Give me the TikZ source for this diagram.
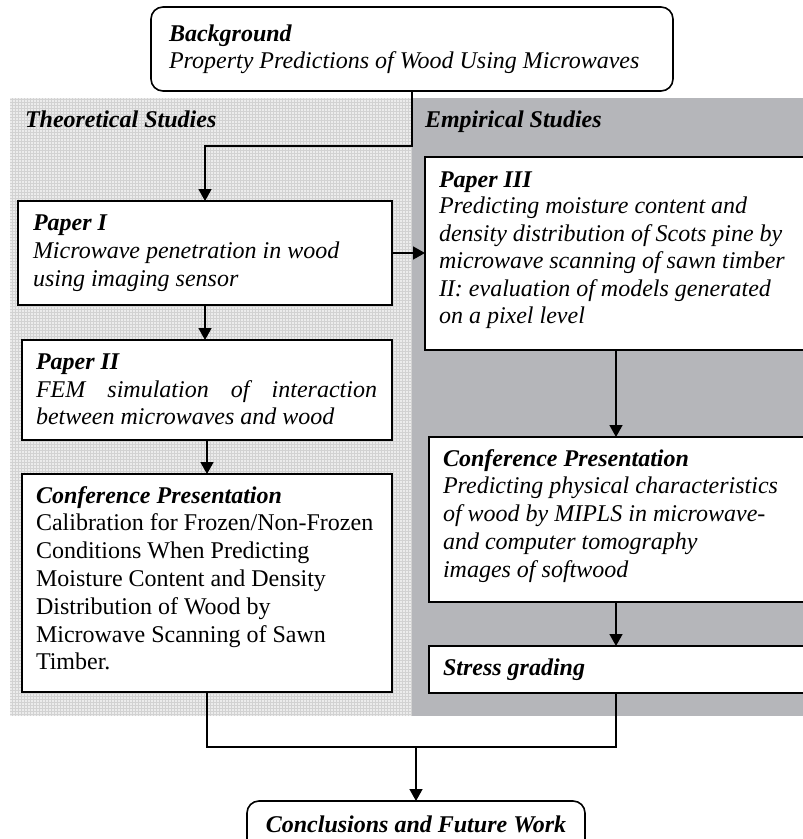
\documentclass[tikz,border=0pt]{standalone}
\usepackage{fontspec}
\setmainfont{Liberation Serif}
\usetikzlibrary{arrows.meta}
\definecolor{lightpanel}{HTML}{ECECEC}
\definecolor{gridline}{HTML}{D2D2D2}
\definecolor{darkpanel}{HTML}{B5B6BA}
\begin{document}
\begin{tikzpicture}[x=1pt,y=-1pt,
  box/.style={draw=black, line width=1.6pt, fill=white, anchor=north west, inner sep=0pt, outer sep=0pt},
  rbox/.style={box, rounded corners=12pt},
  txt/.style={anchor=base west, inner sep=0pt, outer sep=0pt, font=\fontsize{24}{28}\selectfont\itshape},
  rtxt/.style={txt, font=\fontsize{24}{28}\selectfont},
  head/.style={txt, font=\fontsize{24}{28}\selectfont\bfseries\itshape},
  conn/.style={line width=1.6pt, -{Triangle[width=13pt,length=12pt]}},
  plainline/.style={line width=1.6pt}]
\useasboundingbox (0,0) rectangle (803,839);
\clip (0,0) rectangle (803,839);
% panels
\fill[lightpanel] (10,98) rectangle (412,716);
\begin{scope}
\clip (10,98) rectangle (412,716);
\draw[gridline, line width=0.6pt, step=3pt] (10,98) grid (412,716);
\end{scope}
\fill[darkpanel] (412,98) rectangle (803,716);
% boxes
\node[rbox, minimum width=522pt, minimum height=84pt] (bg) at (151,7) {};
\node[box, minimum width=374pt, minimum height=104pt] (p1) at (18,201) {};
\node[box, minimum width=370pt, minimum height=100pt] (p2) at (22,340) {};
\node[box, minimum width=370pt, minimum height=218pt] (c1) at (22,474) {};
\node[box, minimum width=400pt, minimum height=193pt] (p3) at (425,157) {};
\node[box, minimum width=400pt, minimum height=165pt] (c2) at (429,437) {};
\node[box, minimum width=400pt, minimum height=47pt] (sg) at (429,646) {};
\node[rbox, minimum width=338pt, minimum height=70pt] (concl) at (247,801) {};
% texts
\node[head] (bgh) at (169,41) {Background};
\node[txt] (bgt) at (169,68) {Property Predictions of Wood Using Microwaves};
\node[head] (th) at (25,127) {Theoretical Studies};
\node[head] (eh) at (425,127) {Empirical Studies};
\node[head] (p1h) at (33,230) {Paper I};
\node[txt] (p1a) at (33,258) {Microwave penetration in wood};
\node[txt] (p1b) at (33,286) {using imaging sensor};
\node[head] (p2h) at (36,369) {Paper II};
\node[txt] (p2a) at (36,397) {\makebox[341pt][s]{FEM simulation of interaction}};
\node[txt] (p2b) at (36,424) {between microwaves and wood};
\node[head] (c1h) at (36,503) {Conference Presentation};
\node[rtxt] (c1a) at (36,530) {Calibration for Frozen/Non-Frozen};
\node[rtxt] (c1b) at (36,558) {Conditions When Predicting};
\node[rtxt] (c1c) at (36,586) {Moisture Content and Density};
\node[rtxt] (c1d) at (36,614) {Distribution of Wood by};
\node[rtxt] (c1e) at (36,642) {Microwave Scanning of Sawn};
\node[rtxt] (c1f) at (36,669) {Timber.};
\node[head] (p3h) at (439,187) {Paper III};
\node[txt] (p3a) at (439,213) {Predicting moisture content and};
\node[txt] (p3b) at (439,241) {density distribution of Scots pine by};
\node[txt] (p3c) at (439,268) {microwave scanning of sawn timber};
\node[txt] (p3d) at (439,296) {II: evaluation of models generated};
\node[txt] (p3e) at (439,323) {on a pixel level};
\node[head] (c2h) at (443,466) {Conference Presentation};
\node[txt] (c2a) at (443,493) {Predicting physical characteristics};
\node[txt] (c2b) at (443,521) {of wood by MIPLS in microwave-};
\node[txt] (c2c) at (443,549) {and computer tomography};
\node[txt] (c2d) at (443,577) {images of softwood};
\node[head] (sgh) at (443,675) {Stress grading};
\node[head, anchor=base] (cch) at (416,832) {Conclusions and Future Work};
% connectors
\coordinate (j1) at (412,146);
\coordinate (xr) at (616,0);
\coordinate (m) at (416,747);
\draw[conn] (bg.south) -- (bg.south |- j1) -| (p1.north);
\draw[conn] (p1.south) -- (p1.south |- p2.north);
\draw[conn] (p2.south) -- (c1.north);
\draw[conn] (p1.east) -- (p1.east -| p3.west);
\draw[conn] (p3.south -| xr) -- (c2.north -| xr);
\draw[conn] (c2.south -| xr) -- (sg.north -| xr);
\draw[plainline] (c1.south) -- (c1.south |- m) -- (m -| xr) -- (sg.south -| xr);
\draw[conn] (m) -- (concl.north);
\end{tikzpicture}
\end{document}
